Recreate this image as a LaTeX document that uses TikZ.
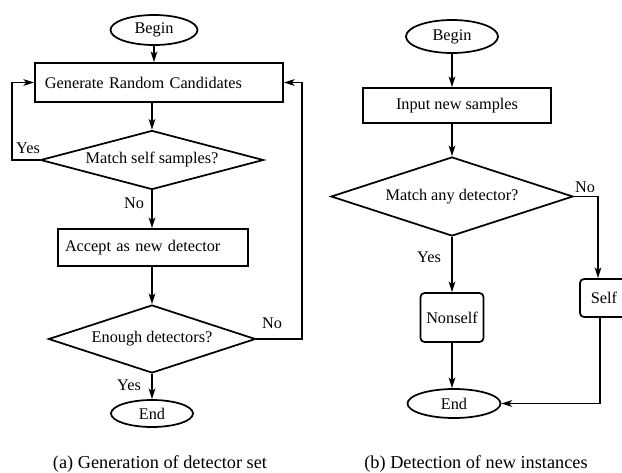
\documentclass[tikz,border=0pt]{standalone}
\usepackage{fontspec}
\setmainfont{Liberation Serif}
\usetikzlibrary{shapes.geometric,arrows.meta}

\begin{document}
\begin{tikzpicture}[x=0.75pt,y=-0.75pt,line width=1.3pt,
  font=\fontsize{12.2}{14}\selectfont,
  term/.style={draw,ellipse,inner sep=0pt},
  proc/.style={draw,rectangle,inner ysep=0pt},
  test/.style={draw,diamond,inner sep=0pt},
  result/.style={draw,rectangle,rounded corners=3pt,inner sep=1pt},
  arr/.style={-{Stealth[length=8pt,width=5pt,inset=2pt]}},
  caption/.style={font=\fontsize{13.7}{16}\selectfont}]

\useasboundingbox (0,0) rectangle (622,472);

% (a) detector set
\begin{scope}
\node[term,minimum width=65.25pt,minimum height=22.5pt] (begina) at (154,30) {Begin};
\node[proc,text width=171pt,inner xsep=7.5pt,minimum height=29.25pt,align=left] (gen) at (159,82.5) {Generate Random Candidates};
\node[test,aspect=3.78,minimum width=167.25pt,minimum height=44.25pt] (match) at (152,160) {Match self samples?};
\node[proc,text width=132pt,inner xsep=5.25pt,minimum height=27.75pt,align=left] (accept) at (153,247.5) {Accept as new detector};
\node[test,aspect=3.04,minimum width=155.25pt,minimum height=51pt] (enough) at (152,339) {Enough detectors?};
\node[term,minimum width=61.5pt,minimum height=20.25pt] (enda) at (152,413.5) {End};

\coordinate (yesx) at (12,160);
\coordinate (nox) at (302,339);

\draw[arr] (begina.south) -- (begina.south |- gen.north);
\draw[arr] (match.north |- gen.south) -- (match.north);
\draw[arr] (match.south) -- (match.south |- accept.north);
\draw[arr] (enough.north |- accept.south) -- (enough.north);
\draw[arr] (enough.south) -- (enda.north);
\draw[arr] (match.west) -- (yesx) |- (gen.west);
\draw[arr] (enough.east) -- (nox) |- (gen.east);

\node (yesa) at (28,148) {Yes};
\node (noa) at (134,203) {No};
\node (nob) at (272,323) {No};
\node (yesb) at (129,385) {Yes};

\node[caption] (capa) at (160,464) {(a) Generation of detector set};
\end{scope}

% (b) new instances
\begin{scope}
\node[term,minimum width=69pt,minimum height=24.75pt] (beginb) at (452,36.5) {Begin};
\node[proc,minimum width=141pt,minimum height=26.25pt] (input) at (457,105.5) {Input new samples};
\node[test,aspect=3.06,minimum width=181.5pt,minimum height=59.25pt] (anydet) at (452,196.5) {Match any detector?};
\node[result,minimum width=47.25pt,minimum height=36.75pt] (nonself) at (452,317.5) {Nonself};
\node[result,minimum width=36pt,minimum height=28.5pt] (self) at (604,298) {Self};
\node[term,minimum width=69.75pt,minimum height=21.75pt] (endb) at (454,403.5) {End};

\draw[arr] (beginb.south) -- (beginb.south |- input.north);
\draw[arr] (anydet.north |- input.south) -- (anydet.north);
\draw[arr] (anydet.south) -- (nonself.north);
\draw[arr] (nonself.south) -- (nonself.south |- endb.north);
\draw[arr] (anydet.east) -| ([xshift=-4.5pt]self.north);
\draw[arr] ([xshift=-3pt]self.south) |- (endb.east);

\node (yesc) at (429,257) {Yes};
\node (noc) at (585,187) {No};

\node[caption] (capb) at (476,464) {(b) Detection of new instances};
\end{scope}
\end{tikzpicture}
\end{document}
